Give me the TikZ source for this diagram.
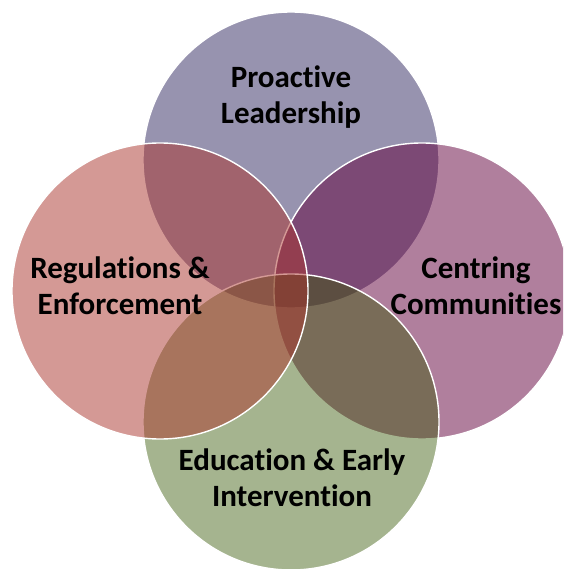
\documentclass[tikz,border=0pt]{standalone}
\usepackage{fontspec}
\setmainfont[Ligatures=NoCommon]{Carlito}
\definecolor{ctop}{RGB}{66,59,111}
\definecolor{cright}{RGB}{99,0,61}
\definecolor{cbottom}{RGB}{52,86,0}
\definecolor{cleft}{RGB}{171,53,45}
\tikzset{
  venn/.style={draw=white, line width=1.4pt},
  lbl/.style={align=center, font=\fontsize{31}{36}\selectfont\bfseries, text=black, inner sep=0pt}
}
\begin{document}
\begin{tikzpicture}[x=1pt,y=-1pt]
\useasboundingbox (0,0) rectangle (563,569);
\clip (0,0) rectangle (563,569);
\fill[white] (0,0) rectangle (563,569);
\path[venn, fill=ctop, fill opacity=0.55] (291,160) circle[radius=148];
\path[venn, fill=cright, fill opacity=0.5] (422,291) circle[radius=148];
\path[venn, fill=cbottom, fill opacity=0.44] (291,422) circle[radius=148];
\path[venn, fill=cleft, fill opacity=0.5] (160,291) circle[radius=148];
\node[lbl] (t) at (291,97) {Proactive\\Leadership};
\node[lbl] (l) at (120,286) {Regulations \&\\Enforcement};
\node[lbl] (r) at (476,286) {Centring\\Communities};
\node[lbl] (b) at (292,478) {Education \& Early\\Intervention};
\end{tikzpicture}
\end{document}
